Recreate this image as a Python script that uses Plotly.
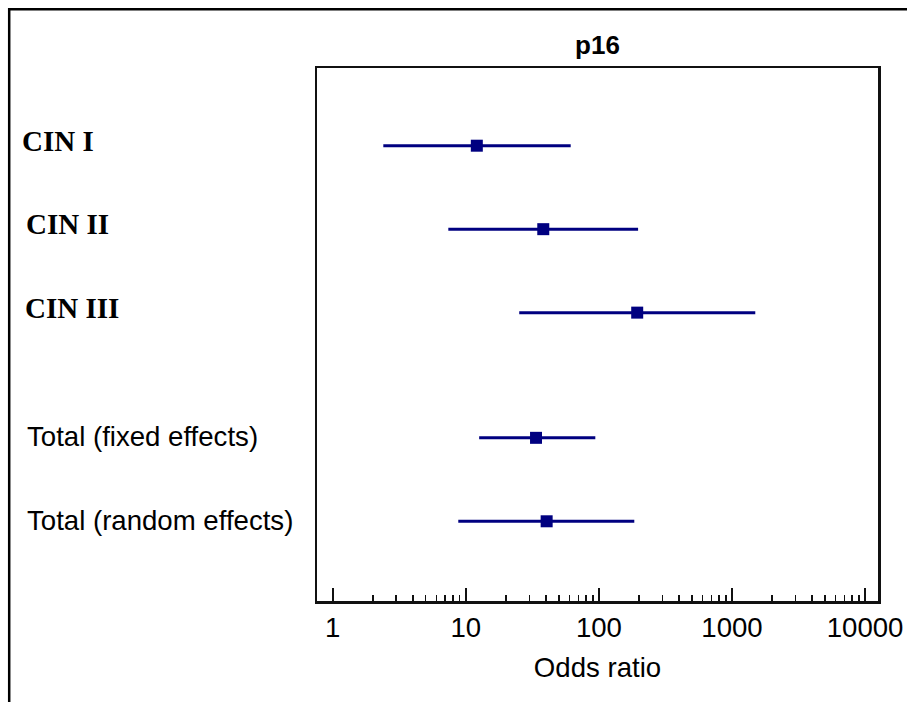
import plotly.graph_objects as go

# ---- data ----
labels = ["CIN I", "CIN II", "CIN III", "Total (fixed effects)", "Total (random effects)"]
row_pos = [0, 1, 2, 3.5, 4.5]
odds_ratio = [12.1, 38.2, 194, 33.7, 40.5]
ci_low = [2.40, 7.39, 25.2, 12.6, 8.78]
ci_high = [61.4, 197, 1496, 94, 184.5]
label_bold_serif = [True, True, True, False, False]
label_x_px = [22.0, 25.7, 25.0, 26.8, 26.8]

major_ticks = [1, 10, 100, 1000, 10000]
major_text = ["1", "10", "100", "1000", "10000"]
minor_ticks = [m * 10 ** d for d in range(0, 4) for m in range(2, 10)]

W, H = 907, 702
L, R, T, B = 317, 878, 68, 601  # plot area pixels

NAVY = "#000080"

fig = go.Figure()
fig.add_trace(go.Scatter(
    x=odds_ratio, y=row_pos, mode="markers",
    marker=dict(symbol="square", size=12, color=NAVY, line=dict(width=0)),
    error_x=dict(type="data", symmetric=False,
                 array=[h - o for h, o in zip(ci_high, odds_ratio)],
                 arrayminus=[o - l for o, l in zip(odds_ratio, ci_low)],
                 color=NAVY, thickness=3, width=0),
    showlegend=False, hoverinfo="skip",
))

def px2paper_x(px):
    return (px - L) / (R - L)

def px2paper_y(py):
    return (B - py) / (B - T)

annotations = []
for lab, yv, bold, xp in zip(labels, row_pos, label_bold_serif, label_x_px):
    if bold:
        font = dict(family="Liberation Serif", size=29, color="black")
        text = "<b>" + lab + "</b>"
    else:
        font = dict(family="Liberation Sans", size=27.6, color="black")
        text = lab
    annotations.append(dict(
        text=text, x=px2paper_x(xp), xref="paper", xanchor="left",
        y=yv, yref="y", yanchor="middle", yshift=5 if bold else 1,
        showarrow=False, font=font, borderpad=0, borderwidth=0,
    ))

shapes = [
    dict(type="line", xref="paper", yref="paper",
         x0=px2paper_x(8), x1=px2paper_x(907), y0=px2paper_y(9.2), y1=px2paper_y(9.2),
         line=dict(color="black", width=2.5)),
    dict(type="line", xref="paper", yref="paper",
         x0=px2paper_x(9.2), x1=px2paper_x(9.2), y0=px2paper_y(8), y1=px2paper_y(702),
         line=dict(color="black", width=2.5)),
]

fig.update_layout(
    width=W, height=H, autosize=False,
    margin=dict(l=L, r=W - R, t=T, b=H - B, pad=0, autoexpand=False),
    paper_bgcolor="white", plot_bgcolor="white",
    font=dict(family="Liberation Sans", color="black"),
    title=dict(text="<b>p16</b>", x=0.5, xref="paper", xanchor="center",
               y=1 - 45 / H, yref="container", yanchor="middle",
               font=dict(family="Liberation Sans", size=26, color="black")),
    annotations=annotations,
    shapes=shapes,
    hovermode=False,
)

fig.update_xaxes(
    type="log", range=[-0.118, 4.097], automargin=False,
    tickmode="array", tickvals=major_ticks, ticktext=major_text,
    ticks="inside", ticklen=13, tickwidth=2, tickcolor="#111",
    minor=dict(tickmode="array", tickvals=minor_ticks, ticks="inside",
               ticklen=6, tickwidth=1.5, tickcolor="#111", showgrid=False),
    tickfont=dict(family="Liberation Sans", size=27.6, color="black"),
    ticklabeloverflow="allow",
    showgrid=False, zeroline=False,
    showline=True, linecolor="#111", linewidth=2.5, mirror=True,
    title=dict(text="Odds ratio", font=dict(family="Liberation Sans", size=27.6, color="black"),
               standoff=16),
)
fig.update_yaxes(
    range=[5.455, -0.931], automargin=False, showticklabels=False, ticks="",
    showgrid=False, zeroline=False,
    showline=True, linecolor="#111", linewidth=2.5, mirror=True,
)

fig.write_html(
    "out.html",
    config={"displayModeBar": False, "staticPlot": True},
    post_script="document.documentElement.style.margin='0';"
                "document.body.style.margin='0';document.body.style.padding='0';"
                "document.body.style.overflow='hidden';"
                "document.documentElement.style.overflow='hidden';",
)
